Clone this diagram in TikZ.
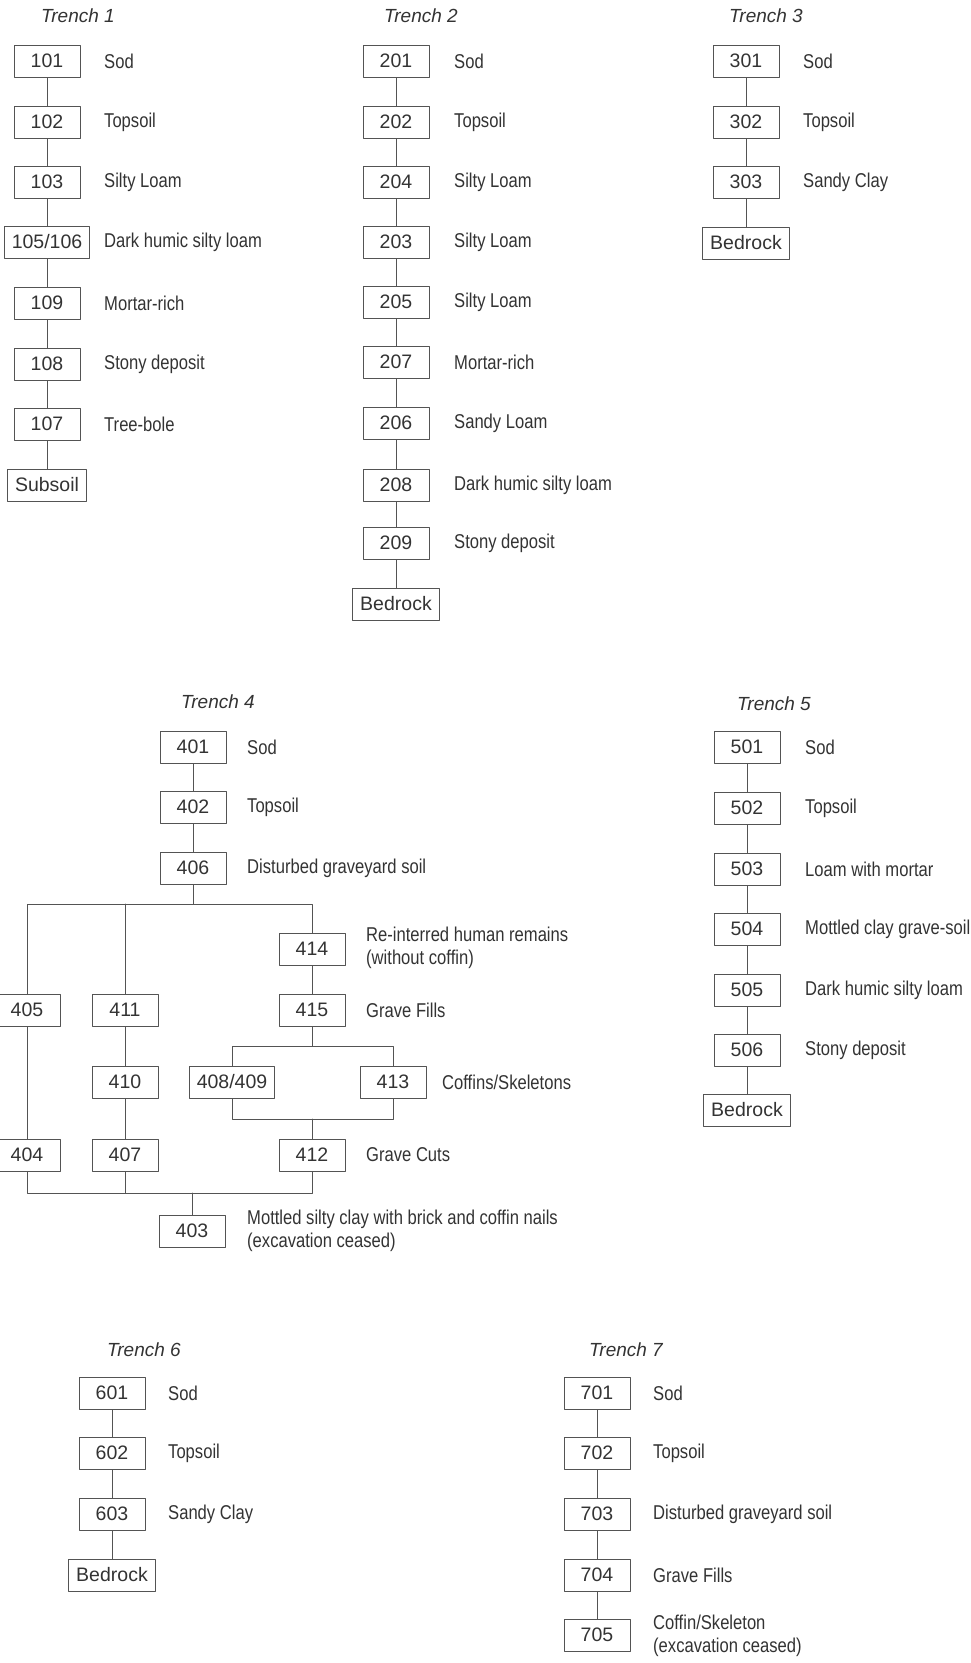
\documentclass[tikz,border=0pt]{standalone}
\usepackage{fontspec}
\setmainfont{Liberation Sans}
\newfontfamily\labelfont[FakeStretch=0.83]{Liberation Sans}
\definecolor{txtgray}{rgb}{0.2,0.2,0.2}
\definecolor{linegray}{rgb}{0.33,0.33,0.33}

\begin{document}
\begin{tikzpicture}[x=1pt,y=-1pt,line cap=round,line join=round,
	ctx/.style={draw=linegray,line width=0.9pt,fill=white,minimum width=66pt,minimum height=32pt,inner xsep=7.5pt,inner ysep=0pt,text=txtgray,font=\fontsize{19.5}{22}\selectfont},
	desc/.style={anchor=west,inner sep=0pt,text=txtgray,align=left,font=\labelfont\fontsize{20}{23.5}\selectfont},
	trench/.style={text=txtgray,font=\fontsize{19}{22}\selectfont\itshape},
	link/.style={draw=linegray,line width=0.9pt}]
	\useasboundingbox (0,0) rectangle (971,1663);
	% Trench 1
	\node[trench] (t1) at (78,16) {Trench 1};
	\foreach \n/\y/\t in {101/61/Sod,102/122/Topsoil,103/182/Silty Loam,109/303/Mortar-rich,108/364/Stony deposit,107/424/Tree-bole}{
		\node[ctx] (c\n) at (47,\y) {\n};
		\node[desc] (l\n) at (104,\y) {\t};
	}
	\node[ctx] (c105) at (47,242) {105/106};
	\node[desc] (l105) at (104,242) {Dark humic silty loam};
	\node[ctx] (sub1) at (47,485) {Subsoil};
	\draw[link] (c101) -- (c102) -- (c103) -- (c105) -- (c109) -- (c108) -- (c107) -- (sub1);
	% Trench 2
	\node[trench] (t2) at (421,16) {Trench 2};
	\foreach \n/\y/\t in {201/61/Sod,202/122/Topsoil,204/182/Silty Loam,203/242/Silty Loam,205/302/Silty Loam,207/362/Mortar-rich,206/423/Sandy Loam,208/485/Dark humic silty loam,209/543/Stony deposit}{
		\node[ctx] (c\n) at (396,\y) {\n};
		\node[desc] (l\n) at (454,\y) {\t};
	}
	\node[ctx] (bed2) at (396,604) {Bedrock};
	\draw[link] (c201) -- (c202) -- (c204) -- (c203) -- (c205) -- (c207) -- (c206) -- (c208) -- (c209) -- (bed2);
	% Trench 3
	\node[trench] (t3) at (766,16) {Trench 3};
	\foreach \n/\y/\t in {301/61/Sod,302/122/Topsoil,303/182/Sandy Clay}{
		\node[ctx] (c\n) at (746,\y) {\n};
		\node[desc] (l\n) at (803,\y) {\t};
	}
	\node[ctx] (bed3) at (746,243) {Bedrock};
	\draw[link] (c301) -- (c302) -- (c303) -- (bed3);
	% Trench 4
	\node[trench] (t4) at (218,702) {Trench 4};
	\node[ctx] (c401) at (193,747) {401};
	\node[desc] (l401) at (247,747) {Sod};
	\node[ctx] (c402) at (193,807) {402};
	\node[desc] (l402) at (247,807) {Topsoil};
	\node[ctx] (c406) at (193,868) {406};
	\node[desc] (l406) at (247,868) {Disturbed graveyard soil};
	\node[ctx] (c414) at (312,949) {414};
	\node[desc] (l414) at (366,948) {Re-interred human remains\\(without coffin)};
	\node[ctx] (c415) at (312,1010) {415};
	\node[desc] (l415) at (366,1010) {Grave Fills};
	\node[ctx] (c405) at (27,1010) {405};
	\node[ctx] (c411) at (125,1010) {411};
	\node[ctx] (c410) at (125,1082) {410};
	\node[ctx] (c408) at (232,1082) {408/409};
	\node[ctx] (c413) at (393,1082) {413};
	\node[desc] (l413) at (442,1082) {Coffins/Skeletons};
	\node[ctx] (c404) at (27,1155) {404};
	\node[ctx] (c407) at (125,1155) {407};
	\node[ctx] (c412) at (312,1155) {412};
	\node[desc] (l412) at (366,1155) {Grave Cuts};
	\node[ctx] (c403) at (192,1231) {403};
	\node[desc] (l403) at (247,1231) {Mottled silty clay with brick and coffin nails\\(excavation ceased)};
	\coordinate (top4) at (193,904);
	\coordinate (split4) at (312,1046);
	\coordinate (join4) at (312,1119);
	\coordinate (base4) at (192,1193);
	\draw[link] (c401) -- (c402) -- (c406) -- (top4);
	\draw[link] (c405) -- (c405 |- top4) -| (c414);
	\draw[link] (c411) -- (c411 |- top4);
	\draw[link] (c414) -- (c415) -- (split4);
	\draw[link] (c408) -- (c408 |- split4) -| (c413);
	\draw[link] (c408) -- (c408 |- join4) -| (c413);
	\draw[link] (join4) -- (c412);
	\draw[link] (c405) -- (c404);
	\draw[link] (c411) -- (c410) -- (c407);
	\draw[link] (c404) -- (c404 |- base4) -| (c412);
	\draw[link] (c407) -- (c407 |- base4);
	\draw[link] (base4) -- (c403);
	% Trench 5
	\node[trench] (t5) at (774,704) {Trench 5};
	\foreach \n/\y/\t in {501/747/Sod,502/808/Topsoil,503/869/Loam with mortar,504/929/Mottled clay grave-soil,505/990/Dark humic silty loam,506/1050/Stony deposit}{
		\node[ctx] (c\n) at (747,\y) {\n};
		\node[desc] (l\n) at (805,\y) {\t};
	}
	\node[ctx] (bed5) at (747,1110) {Bedrock};
	\draw[link] (c501) -- (c502) -- (c503) -- (c504) -- (c505) -- (c506) -- (bed5);
	% Trench 6
	\node[trench] (t6) at (144,1350) {Trench 6};
	\foreach \n/\y/\t in {601/1393/Sod,602/1453/Topsoil,603/1514/Sandy Clay}{
		\node[ctx] (c\n) at (112,\y) {\n};
		\node[desc] (l\n) at (168,\y) {\t};
	}
	\node[ctx] (bed6) at (112,1575) {Bedrock};
	\draw[link] (c601) -- (c602) -- (c603) -- (bed6);
	% Trench 7
	\node[trench] (t7) at (626,1350) {Trench 7};
	\foreach \n/\y/\t in {701/1393/Sod,702/1453/Topsoil,703/1514/Disturbed graveyard soil,704/1575/Grave Fills}{
		\node[ctx] (c\n) at (597,\y) {\n};
		\node[desc] (l\n) at (653,\y) {\t};
	}
	\node[ctx] (c705) at (597,1635) {705};
	\node[desc] (l705) at (653,1636) {Coffin/Skeleton\\(excavation ceased)};
	\draw[link] (c701) -- (c702) -- (c703) -- (c704) -- (c705);
\end{tikzpicture}
\end{document}
